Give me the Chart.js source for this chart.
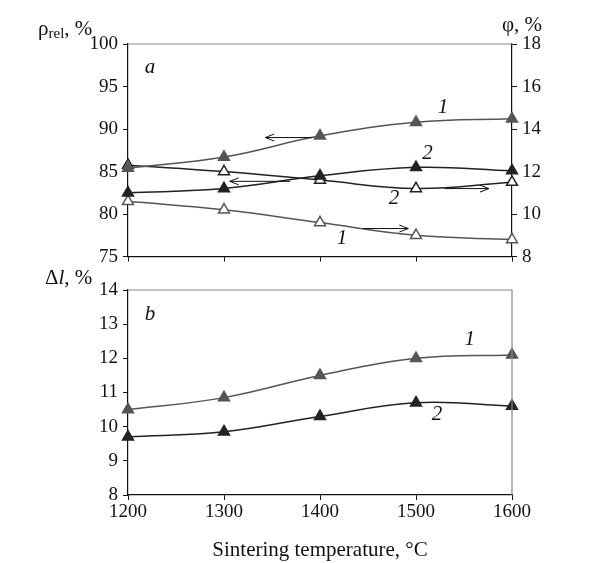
<!DOCTYPE html>
<html>
<head>
<meta charset="utf-8">
<script src="https://cdn.jsdelivr.net/npm/chart.js@4.4.1/dist/chart.umd.min.js"></script>
<style>
  body { margin: 0; background: #fff; }
  #wrap { position: relative; width: 598px; height: 563px; font-family: 'Liberation Serif', serif; color: #111; }
  canvas { position: absolute; left: 0; }
  .lbl { position: absolute; font-size: 21px; white-space: nowrap; }
  .lbl sub { font-size: 15px; vertical-align: -3px; }
</style>
</head>
<body>
<div id="wrap">
  <canvas id="top" width="598" height="273" style="top:0"></canvas>
  <canvas id="bot" width="598" height="293" style="top:270px"></canvas>
  <div class="lbl" style="left:38px;top:16px">ρ<sub>rel</sub>, %</div>
  <div class="lbl" style="left:502px;top:12px">φ, %</div>
  <div class="lbl" style="left:45px;top:265px">Δ<i>l</i>, %</div>
</div>
<script>
const temps = [1200, 1300, 1400, 1500, 1600];
// panel a, left axis (relative density)
const rho1 = [85.4, 86.7, 89.2, 90.8, 91.2];
const rho2 = [82.5, 83.0, 84.5, 85.5, 85.1];
// panel a, right axis (porosity)
const phi1 = [10.6, 10.2, 9.6, 9.0, 8.8];
const phi2 = [12.3, 12.0, 11.6, 11.2, 11.5];
// panel b (shrinkage)
const dl1 = [10.5, 10.85, 11.5, 12.0, 12.1];
const dl2 = [9.7, 9.85, 10.3, 10.7, 10.6];

const GRAY = '#555', DARK = '#222';
const FONT = { family: "'Liberation Serif', serif", size: 19 };

function pts(ys) { return temps.map((t, i) => ({ x: t, y: ys[i] })); }

function series(ys, color, open, axis) {
  return {
    data: pts(ys), yAxisID: axis || 'y',
    borderColor: color, borderWidth: 1.5, tension: 0.4,
    pointStyle: 'triangle', pointRadius: 6.3, pointHoverRadius: 6.3,
    pointBackgroundColor: open ? '#fff' : color,
    pointBorderColor: color, pointBorderWidth: 1.5,
    clip: false
  };
}

// annotation text and arrows in data coordinates
const notesA = [
  { t: 'a', x: 1223, y: 97.2 }, { t: '1', x: 1528, y: 92.5 }, { t: '2', x: 1512, y: 87.1 },
  { t: '2', x: 1477, y: 81.8 }, { t: '1', x: 1423, y: 77.1 }
];
const arrowsA = [
  { x1: 1392, x2: 1343, y: 89.0 }, { x1: 1369, x2: 1306, y: 83.85 },
  { x1: 1530, x2: 1576, y: 83.0 }, { x1: 1445, x2: 1492, y: 78.3 }
];
const notesB = [
  { t: 'b', x: 1223, y: 13.27 }, { t: '1', x: 1556, y: 12.54 }, { t: '2', x: 1522, y: 10.35 }
];

function decor(notes, arrows, grayRight) {
  return {
    id: 'decor',
    afterDraw(chart) {
      const { ctx, chartArea: a, scales } = chart;
      ctx.save();
      ctx.strokeStyle = '#888'; ctx.lineWidth = 1.2;
      ctx.beginPath();
      ctx.moveTo(a.left, a.top); ctx.lineTo(a.right, a.top);
      if (grayRight) ctx.lineTo(a.right, a.bottom);
      ctx.stroke();
      ctx.fillStyle = '#111';
      ctx.font = "italic 21px 'Liberation Serif', serif";
      ctx.textAlign = 'center'; ctx.textBaseline = 'middle';
      notes.forEach(n => ctx.fillText(n.t, scales.x.getPixelForValue(n.x), scales.y.getPixelForValue(n.y)));
      ctx.strokeStyle = '#111'; ctx.lineWidth = 1;
      arrows.forEach(ar => {
        const x1 = scales.x.getPixelForValue(ar.x1), x2 = scales.x.getPixelForValue(ar.x2);
        const y = scales.y.getPixelForValue(ar.y), d = x2 > x1 ? -1 : 1;
        ctx.beginPath();
        ctx.moveTo(x1, y); ctx.lineTo(x2, y);
        ctx.moveTo(x2 + d * 9, y - 3.5); ctx.lineTo(x2, y); ctx.lineTo(x2 + d * 9, y + 3.5);
        ctx.stroke();
      });
      ctx.restore();
    }
  };
}

const axisCommon = {
  grid: { drawOnChartArea: false, tickLength: 5, color: '#111' },
  border: { color: '#111', width: 1.2 },
  ticks: { color: '#111', font: FONT, padding: 5 }
};

new Chart(document.getElementById('top'), {
  type: 'line',
  data: {
    datasets: [
      series(rho1, GRAY, false), series(rho2, DARK, false),
      series(phi2, DARK, true, 'y1'), series(phi1, GRAY, true, 'y1')
    ]
  },
  options: {
    responsive: false, animation: false, events: [],
    layout: { padding: { top: 44, left: 0, right: 0, bottom: 0 } },
    plugins: { legend: { display: false }, tooltip: { enabled: false } },
    scales: {
      x: { ...axisCommon, type: 'linear', min: 1200, max: 1600,
        ticks: { ...axisCommon.ticks, stepSize: 100, callback: () => '' },
        afterFit: s => { s.height = 11; } },
      y: { ...axisCommon, position: 'left', min: 75, max: 100,
        ticks: { ...axisCommon.ticks, stepSize: 5 },
        afterFit: s => { s.width = 128; } },
      y1: { ...axisCommon, position: 'right', min: 8, max: 18,
        ticks: { ...axisCommon.ticks, stepSize: 2 },
        afterFit: s => { s.width = 86; } }
    }
  },
  plugins: [decor(notesA, arrowsA, false)]
});

new Chart(document.getElementById('bot'), {
  type: 'line',
  data: { datasets: [series(dl1, GRAY, false), series(dl2, DARK, false)] },
  options: {
    responsive: false, animation: false, events: [],
    layout: { padding: { top: 20, left: 0, right: 86, bottom: 0 } },
    plugins: { legend: { display: false }, tooltip: { enabled: false } },
    scales: {
      x: { ...axisCommon, type: 'linear', min: 1200, max: 1600,
        ticks: { ...axisCommon.ticks, stepSize: 100, padding: 1, callback: v => String(v) },
        title: { display: true, text: 'Sintering temperature, °C', color: '#111',
          font: { family: "'Liberation Serif', serif", size: 21 }, padding: { top: 10, bottom: 0 } },
        afterFit: s => { s.height = 68; } },
      y: { ...axisCommon, position: 'left', min: 8, max: 14,
        ticks: { ...axisCommon.ticks, stepSize: 1 },
        afterFit: s => { s.width = 128; } }
    }
  },
  plugins: [decor(notesB, [], true)]
});
</script>
</body>
</html>
